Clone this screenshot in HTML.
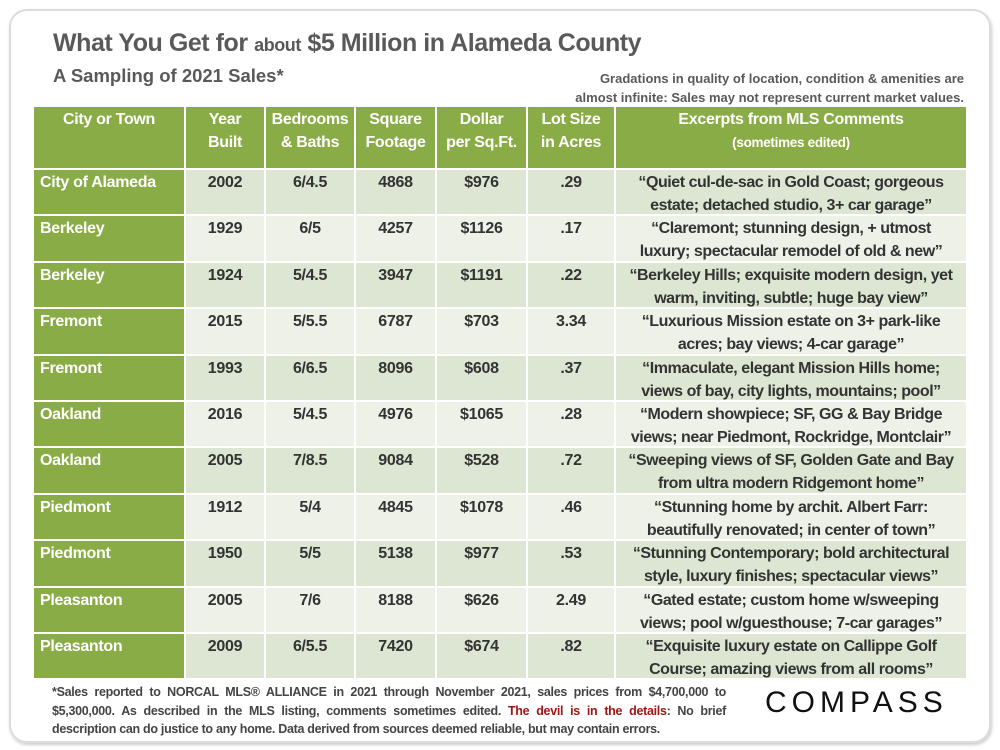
<!DOCTYPE html>
<html><head><meta charset="utf-8"><style>
body{margin:0;width:1000px;height:750px;background:#fff;font-family:"Liberation Sans",sans-serif;position:relative;overflow:hidden}
.card{position:absolute;left:9px;top:9px;width:978px;height:730px;border:2px solid #dcdcdc;border-radius:18px;box-shadow:1px 2px 3px #ccc}
.title{position:absolute;left:53px;top:29px;font-size:25px;font-weight:bold;color:#595959;letter-spacing:-0.45px}
.title small{font-size:18px}
.sub{position:absolute;left:53px;top:65px;font-size:18.5px;font-weight:bold;color:#595959}
.note{position:absolute;right:36px;top:69px;text-align:right;font-size:13px;font-weight:bold;color:#595959;line-height:19px}
.grid{position:absolute;left:34px;top:107px;display:grid;grid-template-columns:150px 78px 88px 79px 89px 86px 350px;grid-template-rows:61px repeat(11,44.4px);gap:2px;background:#fff}
.grid div{font-weight:bold;font-size:16px;text-align:center;color:#333;line-height:23px;padding-top:1px;letter-spacing:-0.3px;white-space:nowrap;overflow:hidden}
.grid .h{background:#8aac46;color:#fff}
.grid .h small{font-size:13.5px}
.grid .o{background:#dde6d2}
.grid .e{background:#edf1e8}
.grid .city{background:#8aac46;color:#fff;text-align:left;padding-left:6px}
.grid .c{font-size:16px;letter-spacing:-0.45px}
.foot{position:absolute;left:52px;top:683px;width:674px;font-size:12.5px;font-weight:bold;color:#444;line-height:18.5px;letter-spacing:-0.3px}
.foot div{text-align:justify;text-align-last:justify;white-space:nowrap}
.foot div.l{text-align-last:left}
.foot span{color:#a31515}
.logo{position:absolute;left:765px;top:686px;font-size:30px;letter-spacing:5px;color:#111}
</style></head><body>
<div class="card"></div>
<div class="title">What You Get for <small>about</small> $5 Million in Alameda County</div>
<div class="sub">A Sampling of 2021 Sales*</div>
<div class="note">Gradations in quality of location, condition &amp; amenities are<br>almost infinite: Sales may not represent current market values.</div>
<div class="grid">
<div class="h">City or Town</div><div class="h">Year<br>Built</div><div class="h">Bedrooms<br>&amp; Baths</div><div class="h">Square<br>Footage</div><div class="h">Dollar<br>per Sq.Ft.</div><div class="h">Lot Size<br>in Acres</div><div class="h">Excerpts from MLS Comments<br><small>(sometimes edited)</small></div>

<div class="city">City of Alameda</div><div class="o">2002</div><div class="o">6/4.5</div><div class="o">4868</div><div class="o">$976</div><div class="o">.29</div><div class="o c">“Quiet cul-de-sac in Gold Coast; gorgeous<br>estate; detached studio, 3+ car garage”</div>

<div class="city">Berkeley</div><div class="e">1929</div><div class="e">6/5</div><div class="e">4257</div><div class="e">$1126</div><div class="e">.17</div><div class="e c">“Claremont; stunning design, + utmost<br>luxury; spectacular remodel of old &amp; new”</div>

<div class="city">Berkeley</div><div class="o">1924</div><div class="o">5/4.5</div><div class="o">3947</div><div class="o">$1191</div><div class="o">.22</div><div class="o c">“Berkeley Hills; exquisite modern design, yet<br>warm, inviting, subtle; huge bay view”</div>

<div class="city">Fremont</div><div class="e">2015</div><div class="e">5/5.5</div><div class="e">6787</div><div class="e">$703</div><div class="e">3.34</div><div class="e c">“Luxurious Mission estate on 3+ park-like<br>acres; bay views; 4-car garage”</div>

<div class="city">Fremont</div><div class="o">1993</div><div class="o">6/6.5</div><div class="o">8096</div><div class="o">$608</div><div class="o">.37</div><div class="o c">“Immaculate, elegant Mission Hills home;<br>views of bay, city lights, mountains; pool”</div>

<div class="city">Oakland</div><div class="e">2016</div><div class="e">5/4.5</div><div class="e">4976</div><div class="e">$1065</div><div class="e">.28</div><div class="e c">“Modern showpiece; SF, GG &amp; Bay Bridge<br>views; near Piedmont, Rockridge, Montclair”</div>

<div class="city">Oakland</div><div class="o">2005</div><div class="o">7/8.5</div><div class="o">9084</div><div class="o">$528</div><div class="o">.72</div><div class="o c">“Sweeping views of SF, Golden Gate and Bay<br>from ultra modern Ridgemont home”</div>

<div class="city">Piedmont</div><div class="e">1912</div><div class="e">5/4</div><div class="e">4845</div><div class="e">$1078</div><div class="e">.46</div><div class="e c">“Stunning home by archit. Albert Farr:<br>beautifully renovated; in center of town”</div>

<div class="city">Piedmont</div><div class="o">1950</div><div class="o">5/5</div><div class="o">5138</div><div class="o">$977</div><div class="o">.53</div><div class="o c">“Stunning Contemporary; bold architectural<br>style, luxury finishes; spectacular views”</div>

<div class="city">Pleasanton</div><div class="e">2005</div><div class="e">7/6</div><div class="e">8188</div><div class="e">$626</div><div class="e">2.49</div><div class="e c">“Gated estate; custom home w/sweeping<br>views; pool w/guesthouse; 7-car garages”</div>

<div class="city">Pleasanton</div><div class="o">2009</div><div class="o">6/5.5</div><div class="o">7420</div><div class="o">$674</div><div class="o">.82</div><div class="o c">“Exquisite luxury estate on Callippe Golf<br>Course; amazing views from all rooms”</div>
</div>
<div class="foot">
<div>*Sales reported to NORCAL MLS® ALLIANCE in 2021 through November 2021, sales prices from $4,700,000 to</div>
<div>$5,300,000. As described in the MLS listing, comments sometimes edited. <span>The devil is in the details</span>: No brief</div>
<div class="l">description can do justice to any home. Data derived from sources deemed reliable, but may contain errors.</div>
</div>
<div class="logo">COMPASS</div>
</body></html>
